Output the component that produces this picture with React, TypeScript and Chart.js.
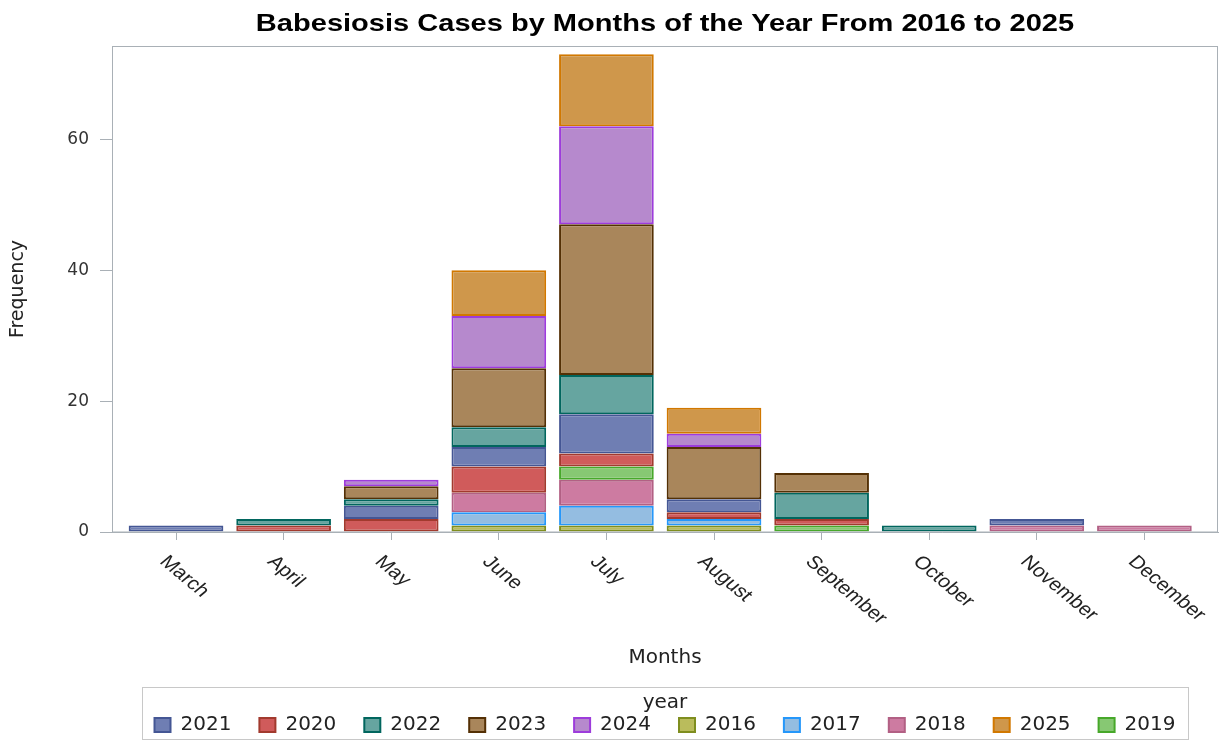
import React, { useEffect, useRef } from "react";
import { Chart, registerables } from "chart.js";

Chart.register(...registerables);

const TITLE = "Babesiosis Cases by Months of the Year From 2016 to 2025";
const X_TITLE = "Months";
const Y_TITLE = "Frequency";
const LEGEND_TITLE = "year";

const MONTHS = ["March", "April", "May", "June", "July", "August", "September", "October", "November", "December"];
const Y_TICKS = [0, 20, 40, 60];

// cases per month (March .. December), one array per year
const Y2016 = [0, 0, 0, 1, 1, 1, 0, 0, 0, 0];
const Y2017 = [0, 0, 0, 2, 3, 1, 0, 0, 0, 0];
const Y2018 = [0, 0, 0, 3, 4, 0, 0, 0, 1, 1];
const Y2019 = [0, 0, 0, 0, 2, 0, 1, 0, 0, 0];
const Y2020 = [0, 1, 2, 4, 2, 1, 1, 0, 0, 0];
const Y2021 = [1, 0, 2, 3, 6, 2, 0, 0, 1, 0];
const Y2022 = [0, 1, 1, 3, 6, 0, 4, 1, 0, 0];
const Y2023 = [0, 0, 2, 9, 23, 8, 3, 0, 0, 0];
const Y2024 = [0, 0, 1, 8, 15, 2, 0, 0, 0, 0];
const Y2025 = [0, 0, 0, 7, 11, 4, 0, 0, 0, 0];

const SERIES: [string, number[]][] = [
  ["2016", Y2016],
  ["2017", Y2017],
  ["2018", Y2018],
  ["2019", Y2019],
  ["2020", Y2020],
  ["2021", Y2021],
  ["2022", Y2022],
  ["2023", Y2023],
  ["2024", Y2024],
  ["2025", Y2025],
];

const LEGEND_ORDER = ["2021", "2020", "2022", "2023", "2024", "2016", "2017", "2018", "2025", "2019"];

const FILL: Record<string, string> = {
  "2021": "#6F7EB3",
  "2020": "#D05B5B",
  "2022": "#66A5A0",
  "2023": "#A9865B",
  "2024": "#B689CD",
  "2016": "#BABC5C",
  "2017": "#94BDE1",
  "2018": "#CD7BA1",
  "2025": "#CF974B",
  "2019": "#87C873",
};
const LINE: Record<string, string> = {
  "2021": "#445694",
  "2020": "#A23A2E",
  "2022": "#01665E",
  "2023": "#543005",
  "2024": "#9D3CDB",
  "2016": "#7F8E1F",
  "2017": "#2597FA",
  "2018": "#B26084",
  "2025": "#D17800",
  "2019": "#47A82A",
};

const FRAME = "#A9B0B6";
const TEXT = "#222222";

const decorPlugin = {
  id: "decor",
  afterDraw(chart: any) {
    const { ctx, chartArea: ca } = chart;
    const xs = chart.scales.x;
    ctx.save();
    // plot frame
    ctx.strokeStyle = FRAME;
    ctx.lineWidth = 1;
    ctx.strokeRect(ca.left + 0.5, ca.top + 0.5, ca.right - ca.left - 1, ca.bottom - ca.top - 0.5);

    // title
    ctx.fillStyle = "#000";
    ctx.font = 'bold 24px "Liberation Sans"';
    ctx.textAlign = "center";
    ctx.textBaseline = "alphabetic";
    ctx.save();
    ctx.translate((ca.left + ca.right) / 2, 31);
    ctx.scale(1.21, 1);
    ctx.fillText(TITLE, 0, 0);
    ctx.restore();

    // rotated month labels
    ctx.font = '18px "Liberation Sans"';
    ctx.fillStyle = TEXT;
    ctx.textAlign = "left";
    ctx.textBaseline = "middle";
    MONTHS.forEach((m, i) => {
      const x = xs.getPixelForValue(i);
      ctx.save();
      ctx.translate(x - 13, ca.bottom + 27);
      ctx.scale(1.2, 1);
      ctx.rotate(Math.PI / 4);
      ctx.fillText(m, 0, 0);
      ctx.restore();
    });

    // legend border
    const lg = chart.legend;
    if (lg && lg.legendHitBoxes && lg.legendHitBoxes.length) {
      let minL = Infinity;
      let maxR = -Infinity;
      lg.legendHitBoxes.forEach((h: any) => {
        minL = Math.min(minL, h.left);
        maxR = Math.max(maxR, h.left + h.width);
      });
      ctx.strokeStyle = "#C8C8C8";
      ctx.lineWidth = 1;
      ctx.strokeRect(Math.round(minL - 13) + 0.5, Math.round(lg.top - 6) + 0.5, Math.round(maxR - minL + 25), 52);
    }
    ctx.restore();
  },
};

export default function App() {
  const ref = useRef<HTMLCanvasElement | null>(null);

  useEffect(() => {
    if (!ref.current) return;
    const datasets = SERIES.map(([year, vals]) => ({
      label: year,
      data: vals.map((v, i) => ({ x: i, y: v === 0 ? null : v })),
      backgroundColor: FILL[year],
      borderColor: LINE[year],
      borderWidth: 2,
      borderSkipped: false,
      barPercentage: 0.88,
      categoryPercentage: 1,
    }));

    const chart = new Chart(ref.current, {
      type: "bar",
      data: { datasets },
      plugins: [decorPlugin],
      options: {
        animation: false,
        responsive: false,
        devicePixelRatio: 1,
        layout: { padding: { top: 46, right: 7, bottom: -5, left: 0 } },
        plugins: {
          title: { display: false },
          tooltip: { enabled: false },
          legend: {
            display: true,
            position: "bottom",
            fullSize: false,
            labels: {
              boxWidth: 16,
              boxHeight: 14,
              padding: 28,
              color: TEXT,
              font: { family: "DejaVu Sans", size: 20 },
              sort: (a: any, b: any) => LEGEND_ORDER.indexOf(a.text) - LEGEND_ORDER.indexOf(b.text),
            },
            title: {
              display: true,
              text: LEGEND_TITLE,
              color: TEXT,
              font: { family: "DejaVu Sans", size: 20 },
              padding: { top: 0, bottom: -30 },
            },
          },
        },
        scales: {
          x: {
            type: "linear",
            stacked: true,
            offset: false,
            min: -0.595,
            max: 9.684,
            afterBuildTicks: (s: any) => {
              s.ticks = MONTHS.map((_, i) => ({ value: i }));
            },
            afterFit: (s: any) => {
              s.height = 161;
            },
            ticks: { display: false },
            grid: { display: true, offset: false, drawOnChartArea: false, drawTicks: true, tickLength: 8, color: FRAME },
            border: { display: true, color: FRAME },
            title: {
              display: true,
              text: X_TITLE,
              color: TEXT,
              font: { family: "DejaVu Sans", size: 20 },
              padding: { top: 0, bottom: 23 },
            },
          },
          y: {
            type: "linear",
            stacked: true,
            min: 0,
            max: 74.25,
            afterBuildTicks: (s: any) => {
              s.ticks = Y_TICKS.map((v) => ({ value: v }));
            },
            afterFit: (s: any) => {
              s.width = 112;
            },
            ticks: {
              color: "#333",
              font: { family: "DejaVu Sans", size: 17 },
              padding: 11,
            },
            grid: { display: true, drawOnChartArea: false, drawTicks: true, tickLength: 12, color: FRAME },
            border: { display: true, color: FRAME },
            title: {
              display: true,
              text: Y_TITLE,
              color: TEXT,
              font: { family: "DejaVu Sans", size: 19 },
              padding: { top: 7, bottom: 0 },
            },
          },
        },
      },
    } as any);
    return () => chart.destroy();
  }, []);

  return (
    <div style={{ position: "fixed", left: 0, top: 0, width: 1225, height: 740, background: "#fff" }}>
      <canvas ref={ref} width={1225} height={740} style={{ width: 1225, height: 740, display: "block" }} />
    </div>
  );
}
